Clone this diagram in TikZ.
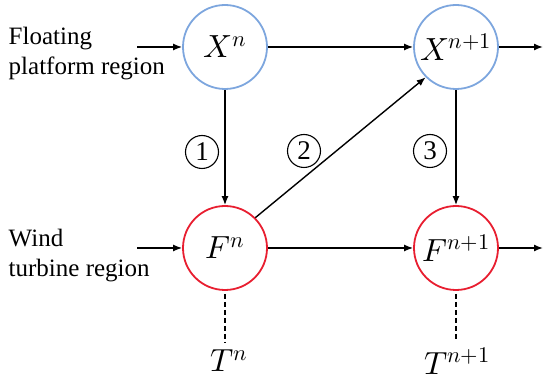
\documentclass[tikz,border=0pt]{standalone}
\usepackage{fontspec}
\usepackage{unicode-math}
\setmainfont{Liberation Serif}
\usetikzlibrary{arrows.meta}
\definecolor{floatblue}{RGB}{125,166,222}
\definecolor{windred}{RGB}{232,30,48}
\begin{document}
\begin{tikzpicture}[x=1pt, y=1pt, line width=1.4pt, >={Latex[length=9pt,width=7pt]},
  state/.style={circle, draw, line width=1.8pt, minimum size=84pt, inner sep=0pt, font=\fontsize{32}{36}\selectfont},
  num/.style={circle, draw, line width=1.1pt, minimum size=33pt, inner sep=0pt, font=\fontsize{27}{30}\selectfont},
  region/.style={align=left, anchor=west, inner sep=0pt, font=\fontsize{25}{30}\selectfont},
  time/.style={inner sep=6pt, font=\fontsize{32}{36}\selectfont}]
  \useasboundingbox (0,0) rectangle (550,383);
  % states of the two regions
  \node[state, floatblue] (Xn)  at (225,336) {\color{black}$X^n$};
  \node[state, floatblue] (Xn1) at (456,336) {\color{black}$X^{n+1}$};
  \node[state, windred]   (Fn)  at (225,135) {\color{black}$F^n$};
  \node[state, windred]   (Fn1) at (456,135) {\color{black}$F^{n+1}$};
  \node[region] (lbX) at (8,329) {Floating\\platform region};
  \node[region] (lbF) at (8,127) {Wind\\turbine region};
  \node[time] (Tn)  at (229,22) {$T^n$};
  \node[time] (Tn1) at (457,22) {$T^{n+1}$};
  % free ends
  \coordinate (inX)  at (137,336);
  \coordinate (outX) at (543,336);
  \coordinate (inF)  at (137,135);
  \coordinate (outF) at (543,135);
  \draw[->] (inX) -- (Xn);
  \draw[->] (Xn) -- (Xn1);
  \draw[->] (Xn1) -- (outX);
  \draw[->] (inF) -- (Fn);
  \draw[->] (Fn) -- (Fn1);
  \draw[->] (Fn1) -- (outF);
  \draw[->] (Xn) -- (Fn);
  \draw[->] (Xn1) -- (Fn1);
  \draw[->] (Fn.45) -- (Xn1.225);
  \foreach \a/\b in {Fn/Tn, Fn1/Tn1}
    \draw[dash pattern=on 5pt off 3pt, shorten <=3pt] (\a) -- (\b.north -| \a);
  % coupling steps
  \node[num] (s1) at (202,231) {1};
  \node[num] (s2) at (304,232) {2};
  \node[num] (s3) at (430,232) {3};
\end{tikzpicture}
\end{document}
